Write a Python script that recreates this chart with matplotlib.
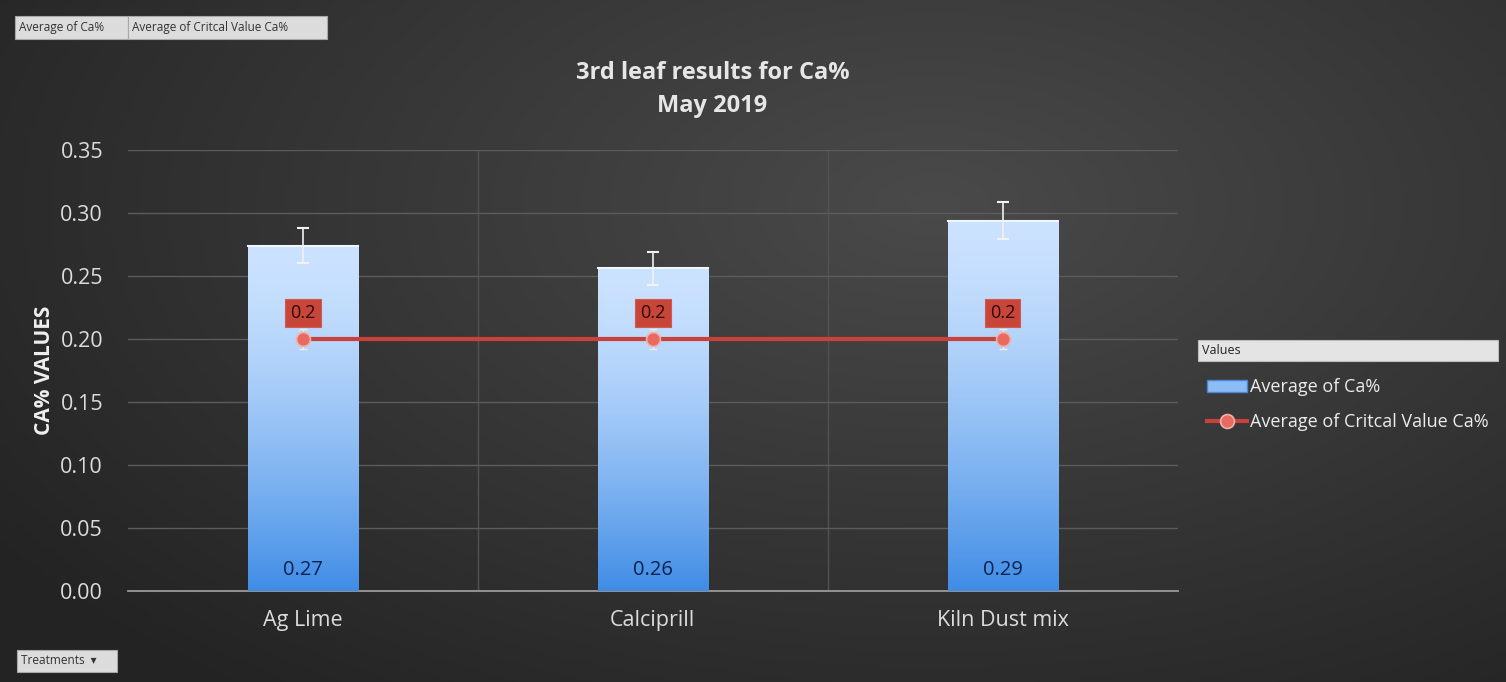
import numpy as np
import matplotlib.pyplot as plt
from matplotlib.patches import Rectangle

plt.rcParams['font.family'] = ['Open Sans', 'DejaVu Sans']

treatments = ["Ag Lime", "Calciprill", "Kiln Dust mix"]
avg_ca = [0.274, 0.256, 0.294]
avg_ca_err = [0.014, 0.013, 0.015]
crit_ca = [0.2, 0.2, 0.2]
crit_ca_err = [0.008, 0.008, 0.008]
yticks = [0.00, 0.05, 0.10, 0.15, 0.20, 0.25, 0.30, 0.35]

fig = plt.figure(figsize=(15.06, 6.82), dpi=100)

# dark radial background
bg = fig.add_axes([0, 0, 1, 1], zorder=-10)
gx, gy = np.meshgrid(np.linspace(0, 1, 400), np.linspace(0, 1, 200))
r = np.sqrt(((gx - 0.62) / 0.75) ** 2 + ((gy - 0.3) / 0.9) ** 2)
shade = np.clip(0.29 - 0.15 * r, 0.14, 0.30)
bg.imshow(np.dstack([shade, shade, shade]), aspect='auto', extent=[0, 1, 0, 1], origin='upper')
bg.set_axis_off()

ax = fig.add_axes([0.085, 0.1334, 0.697, 0.6466])
ax.set_facecolor('none')
x = np.arange(len(treatments))

bars = ax.bar(x, avg_ca, width=0.315, color='#6fa8f0', zorder=3, label='Average of Ca%')
# vertical blue gradient inside each bar, pale at the top
grad = np.linspace(0, 1, 256).reshape(-1, 1) ** 1.5
top_c = np.array([0.80, 0.89, 1.0])
bot_c = np.array([0.25, 0.55, 0.90])
img = top_c * (1 - grad[..., None]) + bot_c * grad[..., None]
for b in bars:
    im = ax.imshow(img, extent=[b.get_x(), b.get_x() + b.get_width(), 0, b.get_height()],
                   aspect='auto', zorder=3.1, origin='upper')
    im.set_clip_path(b)
    ax.plot([b.get_x(), b.get_x() + b.get_width()], [b.get_height()] * 2,
            color='#eef6ff', lw=1.5, zorder=3.2)
ax.errorbar(x, avg_ca, yerr=avg_ca_err, fmt='none', ecolor='#f2f2f2', elinewidth=1.2,
            capsize=4, capthick=1.5, zorder=4)

ax.errorbar(x, crit_ca, yerr=crit_ca_err, fmt='none', ecolor='#eeeeee', elinewidth=1,
            capsize=3, capthick=1, zorder=4)
line, = ax.plot(x, crit_ca, color='#c9413b', lw=3, marker='o', ms=10,
                mfc='#e86a60', mec='#f3b0a8', mew=1.2, zorder=5,
                label='Average of Critcal Value Ca%')

for xi, v in zip(x, avg_ca):
    ax.text(xi, 0.0165, f"{v:.2f}", ha='center', va='center', fontsize=14.5,
            color='#0c2250', zorder=6)
for xi, v in zip(x, crit_ca):
    ax.text(xi, v + 0.0205, f"{v:g}", ha='center', va='center', fontsize=13,
            color='#2a0808', zorder=6,
            bbox=dict(boxstyle='square,pad=0.28', fc='#c8453a', ec='#d25a4e', lw=0.8))

ax.set_xlim(-0.5, 2.5)
ax.set_ylim(0, 0.35)
ax.set_yticks(yticks)
ax.set_yticklabels([f"{t:.2f}" for t in yticks])
ax.set_xticks(x)
ax.set_xticklabels(treatments)
ax.set_xticks([0.5, 1.5], minor=True)
ax.tick_params(axis='both', which='both', length=0, colors='#dcdcdc', labelsize=15.5)
ax.tick_params(axis='x', pad=14)
ax.tick_params(axis='y', pad=18)
ax.grid(axis='y', color='#5c5c5c', lw=1, zorder=0)
ax.grid(axis='x', which='minor', color='#525252', lw=1, zorder=0)
for s in ['top', 'right', 'left']:
    ax.spines[s].set_visible(False)
ax.spines['bottom'].set_color('#9a9a9a')
ax.spines['bottom'].set_linewidth(1.3)
ax.set_ylabel('CA% VALUES', fontsize=15, fontweight='bold', color='#f0f0f0', labelpad=4)

fig.text(0.473, 0.893, "3rd leaf results for Ca%", ha='center', va='center',
         fontsize=17, fontweight='bold', color='#e6e6e6')
fig.text(0.473, 0.845, "May 2019", ha='center', va='center',
         fontsize=17, fontweight='bold', color='#e6e6e6')

# legend with "Values" header strip
fig.patches.append(Rectangle((1198 / 1506, 1 - 361 / 682), 300 / 1506, 21 / 682,
                             transform=fig.transFigure, fc='#e4e4e4', ec='#bdbdbd', lw=0.8))
fig.text(1202 / 1506, 1 - 351 / 682, "Values", ha='left', va='center', fontsize=9, color='#222222')
leg_bar = Rectangle((0, 0), 1, 1, fc='#8dbcf5', ec='#4a86d6')
leg = fig.legend([leg_bar, line], ['Average of Ca%', 'Average of Critcal Value Ca%'],
                 loc='upper left', bbox_to_anchor=(1191 / 1506, 1 - 362 / 682),
                 frameon=False, fontsize=13, labelcolor='#ececec', handlelength=2.2,
                 handletextpad=0.15, labelspacing=0.95)

# pivot field buttons
def field_button(x0, y0, w, h, label, fs=8.5):
    fig.patches.append(Rectangle((x0 / 1506, 1 - (y0 + h) / 682), w / 1506, h / 682,
                                 transform=fig.transFigure, fc='#dcdcdc', ec='#a8a8a8', lw=0.8))
    fig.text((x0 + 4) / 1506, 1 - (y0 + h / 2) / 682, label, ha='left', va='center',
             fontsize=fs, color='#333333')

field_button(15, 16, 113, 23, "Average of Ca%")
field_button(128, 16, 199, 23, "Average of Critcal Value Ca%")
field_button(17, 650, 100, 22, "Treatments  \u25be")

fig.savefig('out.png', dpi=100)
